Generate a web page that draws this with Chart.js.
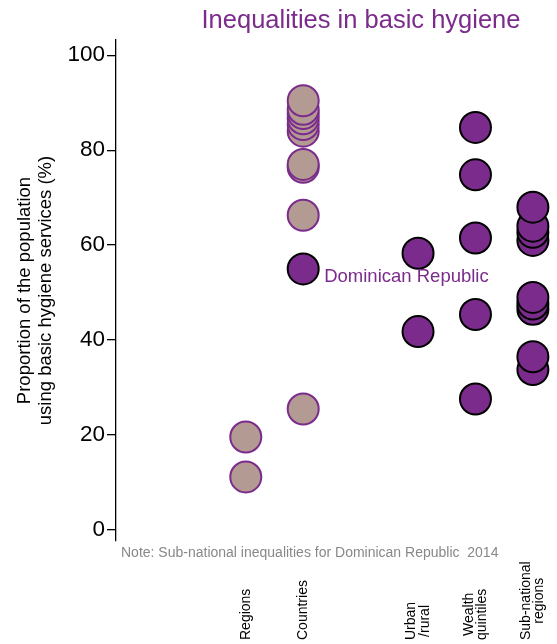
<!DOCTYPE html>
<html lang="en">
<head>
<meta charset="UTF-8">
<title>Inequalities in basic hygiene</title>
<script src="https://cdn.jsdelivr.net/npm/chart.js"></script>
<style>
  body { margin: 0; background: #fff; }
  #wrap { width: 557px; height: 644px; }
</style>
</head>
<body>
<div id="wrap"><canvas id="hygieneChart" width="557" height="644"></canvas></div>
<script>
// slots on the x axis (gap between Countries and Urban/rural)
const categories = [['Regions'], ['Countries'], ['Urban', '/rural'], ['Wealth', 'quintiles'], ['Sub-national', 'regions']];
const categorySlots = [0, 1, 3, 4, 5];

const regionValues = [11.2, 19.6];
const countryValues = [25.5, 66.3, 76.4, 77.0, 84.0, 85.4, 86.6, 87.7, 88.6, 90.4];
const dominicanValue = [55.0];
const urbanRuralValues = [41.8, 58.3];
const wealthValues = [27.6, 45.4, 61.5, 74.8, 84.8];
const subnationalValues = [33.8, 36.5, 46.5, 47.6, 49.0, 61.0, 62.7, 64.0, 68.0];

const yTicks = [0, 20, 40, 60, 80, 100];

const purple = '#7b2b8b';
const tan = '#b39a93';
const fontFamily = '"Liberation Sans", Arial, sans-serif';

function pts(slot, values) {
    return values.map(v => ({ x: slot, y: v }));
}

function ds(label, slot, values, fill, border) {
    return {
        label: label,
        data: pts(slot, values),
        backgroundColor: fill,
        borderColor: border,
        borderWidth: 2,
        pointRadius: 15.5,
        pointHoverRadius: 15.5,
        clip: false
    };
}

const datasets = [
    ds('Regions', categorySlots[0], regionValues, tan, purple),
    ds('Countries', categorySlots[1], countryValues, tan, purple),
    ds('Dominican Republic', categorySlots[1], dominicanValue, purple, '#000'),
    ds('Urban/rural', categorySlots[2], urbanRuralValues, purple, '#000'),
    ds('Wealth quintiles', categorySlots[3], wealthValues, purple, '#000'),
    ds('Sub-national regions', categorySlots[4], subnationalValues, purple, '#000')
];

const extras = {
    id: 'extras',
    afterDraw(chart) {
        const ctx = chart.ctx;
        const x = chart.scales.x;
        ctx.save();

        // title
        ctx.fillStyle = purple;
        ctx.font = '25.5px ' + fontFamily;
        ctx.textAlign = 'center';
        ctx.textBaseline = 'middle';
        ctx.fillText('Inequalities in basic hygiene', 361, 21);

        // note
        ctx.fillStyle = '#888';
        ctx.font = '14px ' + fontFamily;
        ctx.textAlign = 'left';
        ctx.fillText('Note: Sub-national inequalities for Dominican Republic  2014', 121, 553);

        // Dominican label next to its point
        const dm = chart.getDatasetMeta(2).data[0];
        ctx.fillStyle = purple;
        ctx.font = '18.5px ' + fontFamily;
        ctx.fillText('Dominican Republic', dm.x + 21, dm.y + 8);

        // rotated category labels, lines centred, block bottom at the page edge
        ctx.fillStyle = '#000';
        ctx.font = '14px ' + fontFamily;
        ctx.textBaseline = 'middle';
        categories.forEach((lines, i) => {
            const px = x.getPixelForValue(categorySlots[i]);
            const lh = 13.5;
            const maxW = Math.max(...lines.map(l => ctx.measureText(l).width));
            const cy = 640 - maxW / 2;
            lines.forEach((line, j) => {
                const off = (j - (lines.length - 1) / 2) * lh;
                ctx.save();
                ctx.translate(px + off, cy);
                ctx.rotate(-Math.PI / 2);
                ctx.textAlign = 'center';
                ctx.fillText(line, 0, 0);
                ctx.restore();
            });
        });
        ctx.restore();
    }
};

new Chart(document.getElementById('hygieneChart'), {
    type: 'scatter',
    data: { datasets: datasets },
    options: {
        responsive: false,
        animation: false,
        layout: { autoPadding: false, padding: { top: 40, bottom: 103, left: 0, right: 0 } },
        plugins: {
            legend: { display: false },
            tooltip: { enabled: false }
        },
        scales: {
            x: {
                type: 'linear',
                display: false,
                min: -2.26,
                max: 5.42
            },
            y: {
                min: -2.3,
                max: 103.2,
                afterBuildTicks: scale => { scale.ticks = yTicks.map(v => ({ value: v })); },
                afterFit: scale => { scale.width = 116; },
                grid: {
                    drawOnChartArea: false,
                    tickLength: 9,
                    color: '#000',
                    lineWidth: 1.3
                },
                border: { display: true, color: '#000', width: 1.3 },
                ticks: {
                    color: '#000',
                    padding: 2,
                    font: { size: 22.5, family: fontFamily }
                },
                title: {
                    display: true,
                    text: ['Proportion of the population', 'using basic hygiene services (%)'],
                    color: '#000',
                    font: { size: 18.5, family: fontFamily, lineHeight: 1.15 },
                    padding: { top: 14, bottom: 0 }
                }
            }
        }
    },
    plugins: [extras]
});
</script>
</body>
</html>
